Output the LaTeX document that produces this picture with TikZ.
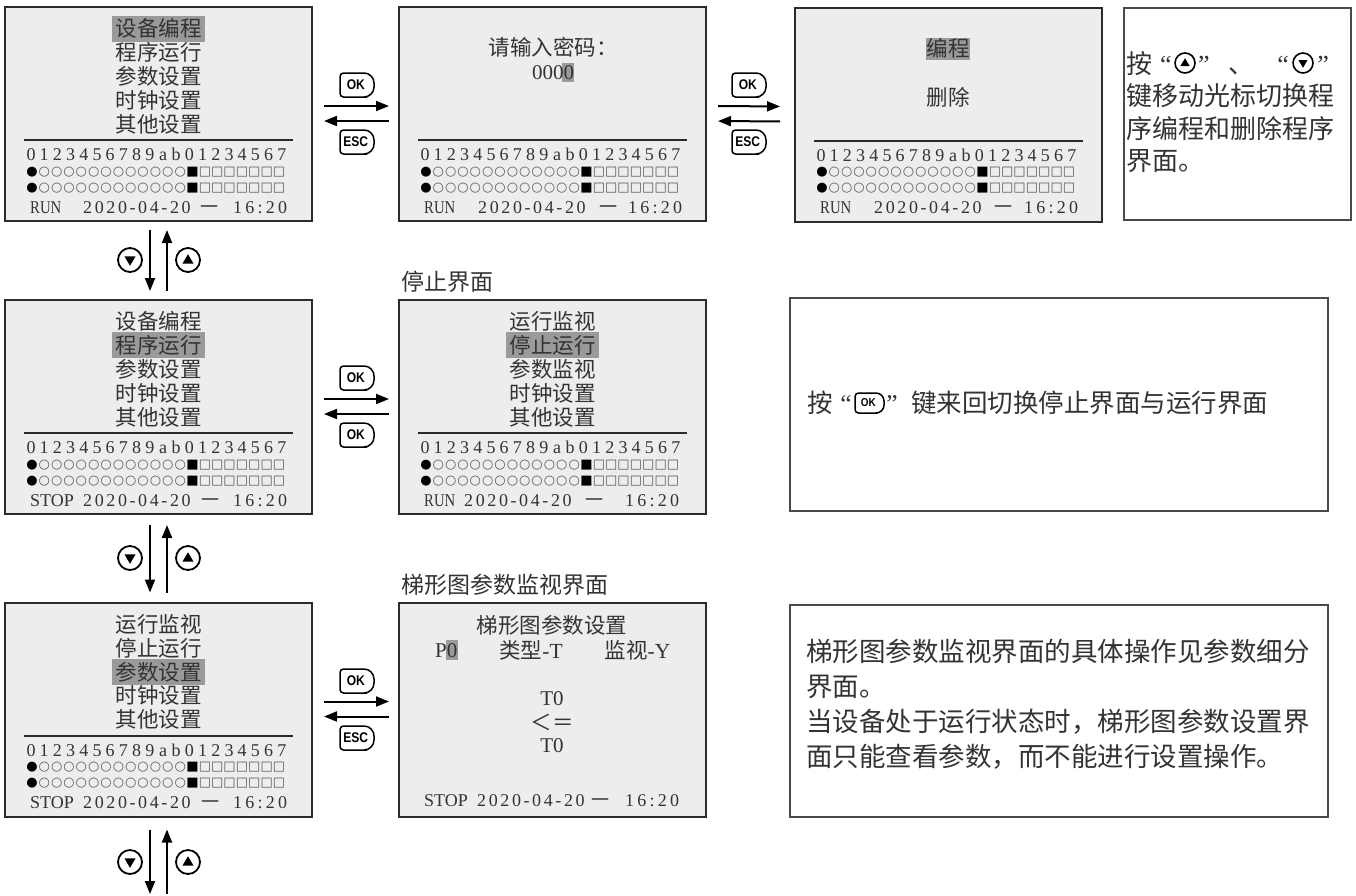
\documentclass[tikz,border=0pt]{standalone}
\usepackage{graphicx}
\usepackage{fontspec}
\setmainfont{Liberation Serif}
\newfontfamily\cjk{Noto Sans CJK SC}
\newfontfamily\symf{DejaVu Sans}
\newfontfamily\keyf{Liberation Sans}
\usetikzlibrary{arrows.meta}

\definecolor{scrbg}{HTML}{EDEDED}
\definecolor{scrline}{HTML}{2B2B2B}
\definecolor{hlgray}{HTML}{9A9A9A}
\definecolor{txtc}{HTML}{333333}
\definecolor{boxline}{HTML}{4A4A4A}
\definecolor{symc}{HTML}{5A5A5A}

\tikzset{
 screen/.style={draw=scrline, line width=2pt, fill=scrbg, minimum width=307pt, minimum height=214pt, inner sep=0pt},
 tbox/.style={draw=boxline, line width=1.4pt, fill=white, inner sep=0pt},
 menu/.style={font=\cjk\fontsize{21.5}{24}\selectfont, text=txtc, inner sep=0pt},
 menuhl/.style={menu, fill=hlgray, minimum width=93pt, minimum height=26pt},
 dig/.style={font=\fontsize{18}{20}\selectfont, text=txtc, inner sep=0pt, anchor=base},
 symo/.style={font=\symf\fontsize{13}{14}\selectfont, text=symc, inner sep=0pt},
 symb/.style={font=\symf\fontsize{13}{14}\selectfont, text=black, inner sep=0pt},
 stat/.style={font=\fontsize{18}{20}\selectfont, text=txtc, inner sep=0pt},
 scrtxt/.style={font=\fontsize{21}{24}\selectfont, text=txtc, inner sep=0pt},
 lbltxt/.style={font=\cjk\fontsize{23}{26}\selectfont, text=txtc, inner sep=0pt},
 rtxt/.style={font=\cjk\fontsize{26}{30}\selectfont, text=txtc, inner sep=0pt},
 rq/.style={font=\fontsize{26}{30}\selectfont, text=txtc, inner sep=0pt, anchor=base},
 harrow/.style={line width=2pt, -{Triangle[length=13pt,width=10pt]}},
 keyline/.style={line width=1.5pt, draw=black},
 keytext/.style={inner sep=0pt},
}

% key button: name, x, y, label, half width, half height, right radius, font size
\newcommand\keybtn[8]{%
 \node[keytext, font=\keyf\bfseries\fontsize{#8}{#8}\selectfont] (#1) at (#2-1.2,#3) {\scalebox{0.86}[1]{#4}};
 \draw[keyline] (#2,#3-#6) [rounded corners=#7pt] -- (#2+#5,#3-#6) -- (#2+#5,#3+#6) -- (#2,#3+#6)
   [rounded corners=3.5pt] -- (#2-#5,#3+#6) -- (#2-#5,#3-#6) -- cycle;
}
% round nav keys: name, x, y, size, line width
\newcommand\navdown[5]{%
 \node[circle, draw=black, line width=#5pt, minimum size=#4pt, inner sep=0pt] (#1) at (#2,#3) {};
 \fill ([shift={(-0.23*#4,-0.15*#4)}]#1.center) -- ([shift={(0.23*#4,-0.15*#4)}]#1.center) -- ([shift={(0,0.24*#4)}]#1.center) -- cycle;
}
\newcommand\navup[5]{%
 \node[circle, draw=black, line width=#5pt, minimum size=#4pt, inner sep=0pt] (#1) at (#2,#3) {};
 \fill ([shift={(-0.23*#4,0.15*#4)}]#1.center) -- ([shift={(0.23*#4,0.15*#4)}]#1.center) -- ([shift={(0,-0.24*#4)}]#1.center) -- cycle;
}
\newcommand\digitline[1]{%
 \foreach \dchar [count=\ii from 0] in {0,1,2,3,4,5,6,7,8,9,a,b,0,1,2,3,4,5,6,7}
   {\node[dig] (#1d\ii) at ({26+13.2*\ii},153.6) {\dchar};}%
}
\newcommand\symline[2]{%
 \node[symb] (#1k0) at (27,#2) {●};
 \foreach \ii in {1,...,12} {\node[symo] (#1k\ii) at ({27+12.35*\ii},#2) {○};}
 \node[symb] (#1k13) at ({27+12.35*13},#2) {■};
 \foreach \ii in {14,...,20} {\node[symo] (#1k\ii) at ({27+12.35*\ii},#2) {□};}
}
% prefix, word, date x, yi x, time x, base y
\newcommand\statusline[6]{%
 \node[stat, anchor=base west] (#1sw) at (25,#6) {#2};
 \node[stat, anchor=base west] (#1sd) at (#3,#6) {\addfontfeature{LetterSpace=14.5}2020-04-20};
 \node[menu, font=\cjk\fontsize{18}{20}\selectfont, anchor=base] (#1sy) at (#4,#6) {一};
 \node[stat, anchor=base west] (#1st) at (#5,#6) {\addfontfeature{LetterSpace=18}16:20};
}
\newcommand\scrbottom[1]{%
 \draw[line width=2pt, scrline] (19,133) -- (288,133);
 \digitline{#1}
 \symline{#1a}{165}
 \symline{#1b}{181}
}
\newcommand\menufive[6]{% prefix, five items
 \node[menu] (#1m1) at (153.5,21.5) {#2};
 \node[menu] (#1m2) at (153.5,45.4) {#3};
 \node[menu] (#1m3) at (153.5,69.3) {#4};
 \node[menu] (#1m4) at (153.5,93.2) {#5};
 \node[menu] (#1m5) at (153.5,117.1) {#6};
}

\begin{document}
\begin{tikzpicture}[x=1pt,y=-1pt]
\useasboundingbox (0,0) rectangle (1356,895);
\fill[white] (0,0) rectangle (1356,895);

% ---------- screens ----------
\node[screen] (A1) at (158.5,114) {};
\node[screen] (B1) at (552.5,114) {};
\node[screen] (C1) at (948.5,114.5) {};
\node[screen] (A2) at (158.5,407) {};
\node[screen] (B2) at (552.5,407) {};
\node[screen] (A3) at (158.5,709.5) {};
\node[screen] (B3) at (552.5,709.5) {};

% A1
\begin{scope}[shift={(5,7)}]
 \menufive{A1}{}{程序运行}{参数设置}{时钟设置}{其他设置}
 \node[menuhl] (A1h) at (153.5,21.5) {设备编程};
 \scrbottom{A1}
 \statusline{A1}{\scalebox{0.82}[1]{RUN}}{78}{204.5}{228}{206}
\end{scope}
% B1
\begin{scope}[shift={(399,7)}]
 \node[menu] (B1t) at (154,40) {请输入密码：};
 \fill[hlgray] (163,56) rectangle (175,75);
 \node[scrtxt, anchor=base] (B1p) at (154,72.1) {0000};
 \scrbottom{B1}
 \statusline{B1}{\scalebox{0.82}[1]{RUN}}{79}{209}{229}{206}
\end{scope}
% C1
\begin{scope}[shift={(795,7.5)}]
 \node[menuhl, minimum width=44pt, minimum height=22pt] (C1a) at (153,41) {编程};
 \node[menu] (C1b) at (153,90) {删除};
 \scrbottom{C1}
 \statusline{C1}{\scalebox{0.82}[1]{RUN}}{79}{208}{229}{206}
\end{scope}
% A2
\begin{scope}[shift={(5,300)}]
 \menufive{A2}{设备编程}{}{参数设置}{时钟设置}{其他设置}
 \node[menuhl] (A2h) at (153.5,45.4) {程序运行};
 \scrbottom{A2}
 \statusline{A2}{STOP}{78}{205}{228}{206}
\end{scope}
% B2
\begin{scope}[shift={(399,300)}]
 \menufive{B2}{运行监视}{}{参数监视}{时钟设置}{其他设置}
 \node[menuhl] (B2h) at (153.5,45.4) {停止运行};
 \scrbottom{B2}
 \statusline{B2}{\scalebox{0.82}[1]{RUN}}{65}{195}{226}{206}
\end{scope}
% A3
\begin{scope}[shift={(5,602.5)}]
 \menufive{A3}{运行监视}{停止运行}{}{时钟设置}{其他设置}
 \node[menuhl] (A3h) at (153.5,69.3) {参数设置};
 \scrbottom{A3}
 \statusline{A3}{STOP}{78}{205}{228}{206}
\end{scope}
% B3
\begin{scope}[shift={(399,602.5)}]
 \node[menu] (B3t) at (153,23) {梯形图参数设置};
 \fill[hlgray] (46.5,37) rectangle (59,57);
 \node[scrtxt, anchor=base west] (B3p) at (36,55) {P0};
 \node[menu] (B3q) at (132,48) {类型\textrm{-T}};
 \node[menu] (B3r) at (238.5,48) {监视\textrm{-Y}};
 \node[scrtxt] (B3s) at (153,96) {T0};
 \node[menu] (B3u) at (153,120) {＜＝};
 \node[scrtxt] (B3v) at (153,143) {T0};
 \statusline{B3}{STOP}{78}{201}{226}{204}
\end{scope}

% labels above screens
\node[lbltxt, anchor=west] (L2) at (401,282) {停止界面};
\node[lbltxt, anchor=west] (L3) at (401,585) {梯形图参数监视界面};

% ---------- text boxes ----------
\node[tbox, minimum width=227pt, minimum height=212pt] (D) at (1237.5,114) {};
\node[tbox, minimum width=538pt, minimum height=213pt] (E) at (1059,404.5) {};
\node[tbox, minimum width=538pt, minimum height=212pt] (F) at (1059,711) {};

% box D
\node[rtxt, anchor=base west] (D1) at (1126,73) {按};
\node[rq] (D2) at (1166,73) {“};
\navup{Du}{1185}{63}{20}{1.6}
\node[rq] (D3) at (1204,73) {”};
\node[rtxt, anchor=base west] (D4) at (1228,73) {、};
\node[rq] (D5) at (1283,73) {“};
\navdown{Dd}{1303}{63}{20}{1.6}
\node[rq] (D6) at (1323,73) {”};
\node[rtxt, anchor=base west] (D7) at (1126,105.5) {键移动光标切换程};
\node[rtxt, anchor=base west] (D8) at (1126,138) {序编程和删除程序};
\node[rtxt, anchor=base west] (D9) at (1126,170.5) {界面。};

% box E
\node[rtxt, font=\cjk\fontsize{25.5}{30}\selectfont, anchor=base west] (E1) at (807,412.7) {按};
\node[rq, font=\fontsize{25.5}{30}\selectfont] (E2) at (846,412.7) {“};
\keybtn{E3}{869.5}{403}{OK}{14.5}{10}{8}{11.5}
\node[rq, font=\fontsize{25.5}{30}\selectfont] (E4) at (892,412.7) {”};
\node[rtxt, font=\cjk\fontsize{25.5}{30}\selectfont, anchor=base west] (E5) at (911,412.7) {键来回切换停止界面与运行界面};

% box F
\begin{scope}[every node/.style={rtxt, font=\cjk\fontsize{26.5}{30}\selectfont, anchor=base west}]
 \node (F1) at (806,661) {梯形图参数监视界面的具体操作见参数细分};
 \node (F2) at (806,696) {界面。};
 \node (F3) at (806,731) {当设备处于运行状态时，梯形图参数设置界};
 \node (F4) at (806,766) {面只能查看参数，而不能进行设置操作。};
\end{scope}

% ---------- horizontal connectors ----------
\draw[harrow, shorten <=11pt, shorten >=9pt] ([yshift=8pt]A1.east) -- ([yshift=8pt]B1.west);
\draw[harrow, shorten <=9pt, shorten >=11pt] ([yshift=-7pt]B1.west) -- ([yshift=-7pt]A1.east);
\draw[harrow, shorten <=11pt, shorten >=14pt] ([yshift=8pt]B1.east) -- ([yshift=8pt]C1.west);
\draw[harrow, shorten <=14pt, shorten >=11pt] ([yshift=-7pt]C1.west) -- ([yshift=-7pt]B1.east);
\draw[harrow, shorten <=11pt, shorten >=9pt] ([yshift=8pt]A2.east) -- ([yshift=8pt]B2.west);
\draw[harrow, shorten <=9pt, shorten >=11pt] ([yshift=-7pt]B2.west) -- ([yshift=-7pt]A2.east);
\draw[harrow, shorten <=11pt, shorten >=9pt] ([yshift=8pt]A3.east) -- ([yshift=8pt]B3.west);
\draw[harrow, shorten <=9pt, shorten >=11pt] ([yshift=-7pt]B3.west) -- ([yshift=-7pt]A3.east);

\keybtn{k1}{357}{85}{OK}{17}{12}{10}{14}
\keybtn{k2}{357}{142}{ESC}{17}{12}{10}{14}
\keybtn{k3}{749}{85}{OK}{17}{12}{10}{14}
\keybtn{k4}{749}{142}{ESC}{17}{12}{10}{14}
\keybtn{k5}{357}{378}{OK}{17}{12}{10}{14}
\keybtn{k6}{357}{435}{OK}{17}{12}{10}{14}
\keybtn{k7}{357}{681}{OK}{17}{12}{10}{14}
\keybtn{k8}{357}{738}{ESC}{17}{12}{10}{14}

% ---------- vertical connectors ----------
\draw[harrow, shorten <=8pt, shorten >=8pt] ([xshift=-8.5pt]A1.south) -- ([xshift=-8.5pt]A2.north);
\draw[harrow, shorten <=8pt, shorten >=8pt] ([xshift=8.5pt]A2.north) -- ([xshift=8.5pt]A1.south);
\navdown{n1d}{130}{260}{24}{1.8}
\navup{n1u}{188}{260}{24}{1.8}

\draw[harrow, shorten <=10pt, shorten >=9pt] ([xshift=-8.5pt]A2.south) -- ([xshift=-8.5pt]A3.north);
\draw[harrow, shorten <=9pt, shorten >=10pt] ([xshift=8.5pt]A3.north) -- ([xshift=8.5pt]A2.south);
\navdown{n2d}{130}{558}{24}{1.8}
\navup{n2u}{188}{558}{24}{1.8}

\coordinate (A4) at (158.5,894);
\draw[harrow, shorten <=12pt] ([xshift=-8.5pt]A3.south) -- ([xshift=-8.5pt]A4);
\draw[harrow, shorten >=12pt] ([xshift=8.5pt]A4) -- ([xshift=8.5pt]A3.south);
\navdown{n3d}{130}{862}{24}{1.8}
\navup{n3u}{188}{862}{24}{1.8}
\end{tikzpicture}
\end{document}
